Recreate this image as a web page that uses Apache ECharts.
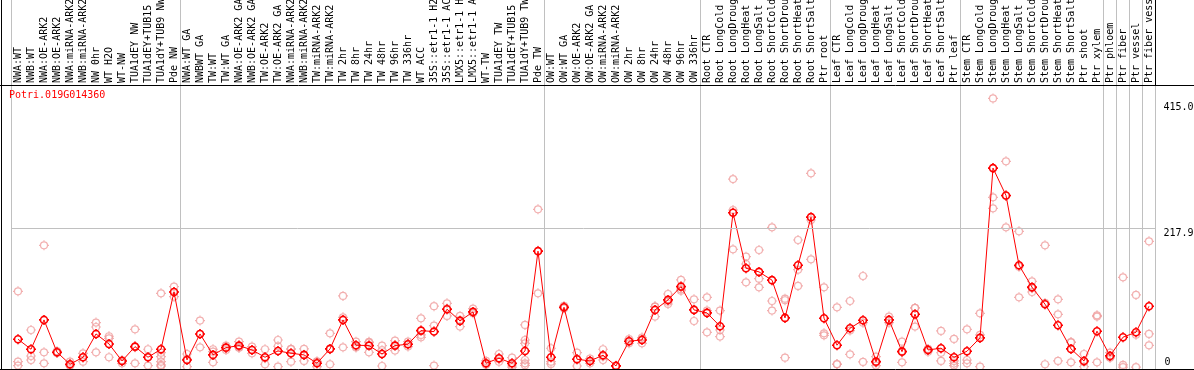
<!DOCTYPE html>
<html><head><meta charset="utf-8">
<script src="https://cdn.jsdelivr.net/npm/echarts@6/dist/echarts.min.js"></script>
<style>html,body{margin:0;padding:0;background:#fff}#c{width:1194px;height:370px}</style>
</head><body><div id="c"></div>
<script>
const geneName = 'Potri.019G014360';
const categories = [
'NWA:WT','NWB:WT','NWA:OE-ARK2','NWB:OE-ARK2','NWA:miRNA-ARK2','NWB:miRNA-ARK2','NW 0hr','WT H2O','WT-NW','TUA1dEY NW','TUA1dEY+TUB15 NW','TUA1dY+TUB9 NW','Pde NW',
'NWA:WT GA','NWBWT GA','TW:WT','TW:WT GA','NWA:OE-ARK2 GA','NWB:OE-ARK2 GA','TW:OE-ARK2','TW:OE-ARK2 GA','NWA:miRNA-ARK2 GA','NWB:miRNA-ARK2 GA','TW:miRNA-ARK2','TW:miRNA-ARK2 GA','TW 2hr','TW 8hr','TW 24hr','TW 48hr','TW 96hr','TW 336hr','WT ACC','35S::etr1-1 H2O','35S::etr1-1 ACC','LMX5::etr1-1 H2O','LMX5::etr1-1 ACC','WT-TW','TUA1dEY TW','TUA1dEY+TUB15 TW','TUA1dY+TUB9 TW','Pde TW',
'OW:WT','OW:WT GA','OW:OE-ARK2','OW:OE-ARK2 GA','OW:miRNA-ARK2','OW:miRNA-ARK2 GA','OW 2hr','OW 8hr','OW 24hr','OW 48hr','OW 96hr','OW 336hr',
'Root CTR','Root LongCold','Root LongDrought','Root LongHeat','Root LongSalt','Root ShortCold','Root ShortDrought','Root ShortHeat','Root ShortSalt','Ptr root',
'Leaf CTR','Leaf LongCold','Leaf LongDrought','Leaf LongHeat','Leaf LongSalt','Leaf ShortCold','Leaf ShortDrought','Leaf ShortHeat','Leaf ShortSalt','Ptr leaf',
'Stem CTR','Stem LongCold','Stem LongDrought','Stem LongHeat','Stem LongSalt','Stem ShortCold','Stem ShortDrought','Stem ShortHeat','Stem ShortSalt','Ptr shoot','Ptr xylem',
'Ptr phloem','Ptr fiber','Ptr vessel','Ptr fiber vessel'
];
const groupStarts = [0, 13, 41, 53, 63, 73, 84, 85, 86, 87];
const meanValues = [
43.8,28.1,74.1,23.4,4.5,15.5,52.1,36.4,9.7,32.2,15.5,28.1,118,
11.3,52.1,19.2,30.6,33.8,27,15.5,25.4,21.8,19.2,6.1,28.6,74.1,34.4,33.8,20.7,33.8,36,57.3,55.8,90.9,72.6,86.7,6.1,14,6.1,25.4,182,
15.5,94,12.4,9.7,18.7,1.9,40.7,42.7,89.8,105.5,126.4,89.8,
85.1,64.2,242.2,155.3,149.5,136.5,77.3,160,235.4,76.8,
34.4,61.1,73.7,8.6,74.1,24.3,83.1,27,29.7,15.5,
25,45.9,312.4,269.4,160,125.5,98.8,65.8,28.6,9.7,56.4,
17.6,47,54.8,95.6
];
const replicates = [
[119,8.6,2.4],[58.3,17.5,11.2],[191.1,23.3,6],[25,23,22],[8.6,2.4,2.5],[21.7,15.5,8.6],[70,63,23.3],[48.5,45.2,15.5],[11.2,9.7,6],[59.4,31.2,6],[28.1,16,2.4],[115.8,22.7,16.4,8.6,3.4,1.7],[126.3,118,110.6],
[20.6,12.5,0.8],[73,52,31.1],[28.1,24.3,7.6],[33.7,30.6,26.9],[40,31,30.6],[32.2,27,21.7],[28.1,14,4.5],[42.6,32.8,0.8],[28.7,28.1,8.6],[28.6,19.3,9.7],[8.6,8.9,0.8],[53.1,28.2,4.5],[111.7,78.2,31.1],[40,32.2,31],[39.7,38.4,23.3],[33.7,26.6,1.8],[41.5,33.8,26],[40,36,32.2],[76.6,50.5,46.8],[95.6,65.2,2.4],[100.2,92,80.3],[80.3,73.9,63.6],[91.8,86.7,84.5],[9.7,5,3.6],[20.6,12.8,8.6],[14.9,3.4,0.1],[66.2,42.6,37.4,11.2,6,2.9],[247.7,182.5,115.8],
[29.6,8.6,5],[96,94,92],[22.7,12.7,1.8],[13.3,9.7,6],[28.1,16.8,11.2],[2,2,1.8],[44,40.6,37.4],[46.5,44.2,37.4],[95.1,95,79.3],[114.8,102.6,99.1],[136.8,122.4,120],[106.5,90.5,72.4],
[109.6,88.7,54.6],[88.7,58.3,47.9],[295.2,246.6,184.9],[173.4,161.9,133.1],[183.8,138.8,125.2],[219.4,103.8,88.7],[107.5,105,14.9],[199.5,153,127.4],[304.2,230.9,169.2],[125.2,53,50],
[93.9,4.8,4.5],[103.8,57.3,20.1],[143,69.8,8.1],[16.4,7,2.5],[79.3,73.2,69.8],[40,25.3,7.6],[92.9,92.8,63.6],[28.6,28.1,24.3],[56.8,22.6,9.7],[44.2,9.7,5.7,2.4],
[59.4,11.2,6],[84.5,50.5,0.8],[421.8,266.5,249.3],[323,268.6,219.4],[213.1,157.7,109.6],[134.7,123.9,117.9],[191.1,100.8,4.5],[106.5,82.9,9.7],[39.2,39,7.6],[20.6,7.7,0.8],[81.3,79.3,7.6],
[22.7,15.5,14.6],[141,3.4,0],[113.3,51,0],[197.5,52.1,34.3]
];
const yTickLabels = [217.9, 415.0];
const yZeroLabel = [0];
const gridLineValue = 217.9;

const FONT = 'DejaVu Sans Mono';
const GRAY = '#c0c0c0';
const marker = 'path://M1.5,5A3.5,3.5,0,1,1,8.5,5A3.5,3.5,0,1,1,1.5,5ZM5,0L5,1.5M5,8.5L5,10M0,5L1.5,5M8.5,5L10,5';

const scatterData = [];
replicates.forEach((arr, i) => arr.forEach(v => scatterData.push([i, v])));

const splitFn = (idx) => groupStarts.indexOf(idx) >= 0;

const chart = echarts.init(document.getElementById('c'), null, {renderer: 'canvas'});
chart.setOption({
  animation: false,
  backgroundColor: '#fff',
  title: {text: geneName, left: 9, top: 90, padding: 0,
    textStyle: {fontSize: 10, fontFamily: FONT, color: '#ff0000', fontWeight: 'normal'}},
  grid: [
    {left: 11.5, right: 38.5, top: 85, bottom: 0.7, containLabel: false, outerBoundsMode: 'none'},
    {left: 11.5, right: 38.5, top: 0, height: 85, containLabel: false, outerBoundsMode: 'none'}
  ],
  xAxis: [
    {type: 'category', gridIndex: 0, position: 'top', data: categories, boundaryGap: true,
      axisLine: {show: false}, axisTick: {show: false},
      axisLabel: {rotate: 90, interval: 0, margin: 2, fontSize: 10, fontFamily: FONT, color: '#000', hideOverlap: false},
      splitLine: {show: true, interval: splitFn, lineStyle: {color: GRAY, width: 1}}},
    {type: 'category', gridIndex: 1, data: categories, boundaryGap: true,
      axisLine: {show: false}, axisTick: {show: false}, axisLabel: {show: false},
      splitLine: {show: true, interval: splitFn, lineStyle: {color: GRAY, width: 1}}}
  ],
  yAxis: [
    {type: 'value', gridIndex: 0, position: 'right', min: -3.4, max: 442.8,
      axisLine: {show: false}, axisTick: {show: false}, splitLine: {show: false},
      axisLabel: {customValues: yTickLabels, formatter: v => v.toFixed(1), verticalAlign: 'top', align: 'left',
        margin: 8, fontSize: 10, fontFamily: FONT, color: '#000'}},
    {type: 'value', gridIndex: 0, position: 'right', min: -3.4, max: 442.8,
      axisLine: {show: false}, axisTick: {show: false}, splitLine: {show: false},
      axisLabel: {customValues: yZeroLabel, formatter: v => String(v), verticalAlign: 'bottom', align: 'left',
        margin: 9, fontSize: 10, fontFamily: FONT, color: '#000'}},
    {type: 'value', gridIndex: 1, show: false}
  ],
  series: [
    {type: 'scatter', xAxisIndex: 0, yAxisIndex: 0, data: scatterData, symbol: marker, symbolSize: 10, z: 2,
      itemStyle: {color: 'rgba(0,0,0,0)', borderColor: '#ef9c9c', borderWidth: 1.2},
      markLine: {silent: true, symbol: ['none', 'none'], label: {show: false},
        lineStyle: {color: GRAY, width: 1, type: 'solid'}, data: [{yAxis: gridLineValue}]}},
    {type: 'line', xAxisIndex: 0, yAxisIndex: 0, data: meanValues, symbol: marker, symbolSize: 10, z: 3,
      showSymbol: true,
      lineStyle: {color: '#ff0000', width: 1},
      itemStyle: {color: 'rgba(0,0,0,0)', borderColor: '#ff0000', borderWidth: 1.6}}
  ],
  graphic: [
    {type: 'line', z: 100, shape: {x1: 1.5, y1: 0, x2: 1.5, y2: 370}, style: {stroke: '#000', lineWidth: 1}},
    {type: 'line', z: 100, shape: {x1: 0, y1: 85.5, x2: 1194, y2: 85.5}, style: {stroke: '#000', lineWidth: 1}},
    {type: 'line', z: 100, shape: {x1: 0, y1: 369.5, x2: 1194, y2: 369.5}, style: {stroke: '#000', lineWidth: 1}},
    {type: 'line', z: 100, shape: {x1: 1155.5, y1: 0, x2: 1155.5, y2: 85}, style: {stroke: '#000', lineWidth: 1}}
  ]
});
</script></body></html>
